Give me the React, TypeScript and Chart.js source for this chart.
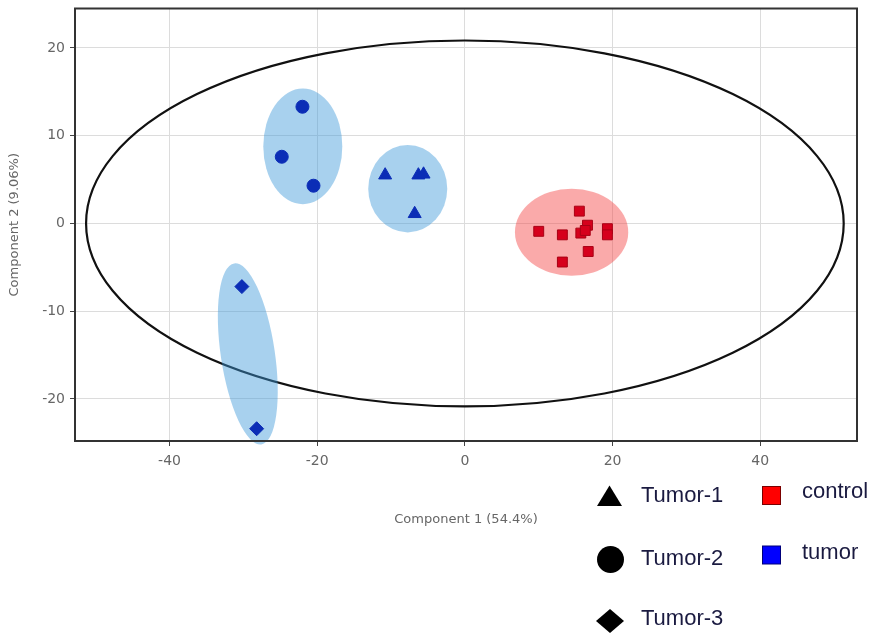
import { useEffect, useRef } from "react";
import { Chart, registerables } from "chart.js";

Chart.register(...registerables);

// PCA scores (Component 1 vs Component 2)
const tumor1X = [-10.8, -6.3, -5.6, -6.8];
const tumor1Y = [5.5, 5.5, 5.6, 1.1];
const tumor2X = [-22.0, -24.8, -20.5];
const tumor2Y = [13.3, 7.6, 4.3];
const tumor3X = [-30.2, -28.2];
const tumor3Y = [-7.2, -23.4];
const controlX = [15.5, 10.0, 13.2, 15.7, 16.6, 16.3, 19.3, 19.3, 16.7, 13.2];
const controlY = [1.4, -0.9, -1.3, -1.1, -0.2, -0.8, -0.6, -1.3, -3.2, -4.4];

const xTicks = [-40, -20, 0, 20, 40];
const yTicks = [-20, -10, 0, 10, 20];

// Confidence regions: overall ellipse, then one per group
const regionGroup = ["all", "Tumor-2", "Tumor-1", "Tumor-3", "control"];
const regionCX = [0, -21.95, -7.74, -29.4, 14.45];
const regionCY = [0, 8.78, 3.96, -14.87, -1.0];
const regionRX = [51.3, 5.35, 5.35, 3.66, 7.67];
const regionRY = [20.85, 6.59, 4.98, 10.43, 4.96];
const regionTilt = [0, 0, 0, -8.5, 0];

const legendShapes = ["Tumor-1", "Tumor-2", "Tumor-3"];
const legendGroups = ["control", "tumor"];

const BLUE = "#0b2db6";
const RED = "#d6001c";
const BLUE_REGION = "rgba(62,153,217,0.45)";
const RED_REGION = "rgba(244,66,66,0.45)";

const toPoints = (xs: number[], ys: number[]) => xs.map((x, i) => ({ x, y: ys[i] }));

const regionsPlugin = {
  id: "regions",
  beforeDatasetsDraw(chart: any) {
    const { ctx } = chart;
    const xs = chart.scales.x;
    const ys = chart.scales.y;
    const draw = (i: number) => {
      const cx = xs.getPixelForValue(regionCX[i]);
      const cy = ys.getPixelForValue(regionCY[i]);
      const rx = Math.abs(xs.getPixelForValue(regionCX[i] + regionRX[i]) - cx);
      const ry = Math.abs(ys.getPixelForValue(regionCY[i] + regionRY[i]) - cy);
      ctx.beginPath();
      ctx.ellipse(cx, cy, rx, ry, (regionTilt[i] * Math.PI) / 180, 0, Math.PI * 2);
    };
    ctx.save();
    regionGroup.forEach((g, i) => {
      if (g !== "all") return;
      draw(i);
      ctx.lineWidth = 2.2;
      ctx.strokeStyle = "#111";
      ctx.stroke();
    });
    regionGroup.forEach((g, i) => {
      if (g === "all") return;
      draw(i);
      ctx.fillStyle = g === "control" ? RED_REGION : BLUE_REGION;
      ctx.fill();
    });
    ctx.restore();
  },
};

const framePlugin = {
  id: "frame",
  afterDatasetsDraw(chart: any) {
    const { ctx, chartArea: a } = chart;
    ctx.save();
    ctx.lineWidth = 2;
    ctx.strokeStyle = "#333";
    ctx.strokeRect(a.left, a.top, a.right - a.left, a.bottom - a.top);
    ctx.restore();
  },
};

const legendPlugin = {
  id: "shapeLegend",
  afterDraw(chart: any) {
    const { ctx } = chart;
    ctx.save();
    ctx.fillStyle = "#000";
    // triangle
    ctx.beginPath();
    ctx.moveTo(609.5, 485.5);
    ctx.lineTo(622, 506);
    ctx.lineTo(597, 506);
    ctx.closePath();
    ctx.fill();
    // circle
    ctx.beginPath();
    ctx.arc(610.5, 559.5, 13.5, 0, Math.PI * 2);
    ctx.fill();
    // diamond
    ctx.beginPath();
    ctx.moveTo(610, 609);
    ctx.lineTo(624, 621);
    ctx.lineTo(610, 633);
    ctx.lineTo(596, 621);
    ctx.closePath();
    ctx.fill();
    // group swatches
    ctx.lineWidth = 1;
    ctx.fillStyle = "#ff0000";
    ctx.fillRect(762.5, 486.5, 18, 18);
    ctx.strokeStyle = "#7a0000";
    ctx.strokeRect(762.5, 486.5, 18, 18);
    ctx.fillStyle = "#0000ff";
    ctx.fillRect(762.5, 546, 18, 18);
    ctx.strokeStyle = "#00007a";
    ctx.strokeRect(762.5, 546, 18, 18);

    ctx.font = "22px 'Liberation Sans', Arial, sans-serif";
    ctx.fillStyle = "#1a1a40";
    ctx.textBaseline = "middle";
    ctx.textAlign = "left";
    const shapeY = [496, 559, 619];
    legendShapes.forEach((t, i) => ctx.fillText(t, 641, shapeY[i]));
    const groupY = [492, 553];
    legendGroups.forEach((t, i) => ctx.fillText(t, 802, groupY[i]));
    ctx.restore();
  },
};

export default function App() {
  const ref = useRef<HTMLCanvasElement | null>(null);

  useEffect(() => {
    if (!ref.current) return;
    const tickFont = { family: "'DejaVu Sans', sans-serif", size: 14 };
    const titleFont = { family: "'DejaVu Sans', sans-serif", size: 13 };
    const chart = new Chart(ref.current, {
      type: "scatter",
      data: {
        datasets: [
          {
            label: "Tumor-1",
            data: toPoints(tumor1X, tumor1Y),
            pointStyle: "triangle",
            pointRadius: 7.5,
            backgroundColor: BLUE,
            borderColor: BLUE,
            borderWidth: 1,
          },
          {
            label: "Tumor-2",
            data: toPoints(tumor2X, tumor2Y),
            pointStyle: "circle",
            pointRadius: 6.5,
            backgroundColor: BLUE,
            borderColor: BLUE,
            borderWidth: 1,
          },
          {
            label: "Tumor-3",
            data: toPoints(tumor3X, tumor3Y),
            pointStyle: "rectRot",
            pointRadius: 7,
            backgroundColor: BLUE,
            borderColor: BLUE,
            borderWidth: 1,
          },
          {
            label: "control",
            data: toPoints(controlX, controlY),
            pointStyle: "rect",
            pointRadius: 7,
            backgroundColor: RED,
            borderColor: "#a80014",
            borderWidth: 1,
          },
        ],
      },
      options: {
        responsive: false,
        animation: false,
        layout: { padding: { left: 0, top: 4, right: 18, bottom: 111 } },
        plugins: { legend: { display: false }, tooltip: { enabled: false } },
        scales: {
          x: {
            type: "linear",
            min: -52.8,
            max: 53.1,
            afterBuildTicks: (s: any) => {
              s.ticks = xTicks.map((v) => ({ value: v }));
            },
            afterFit: (s: any) => {
              s.height = 90;
              s.paddingLeft = 0;
              s.paddingRight = 0;
            },
            grid: { color: "#dcdcdc", lineWidth: 1, tickColor: "#444", tickLength: 5 },
            border: { display: false },
            ticks: { font: tickFont, color: "#666", padding: 7 },
            title: {
              display: true,
              text: "Component 1 (54.4%)",
              font: titleFont,
              color: "#666",
              padding: { top: 0, bottom: 4 },
            },
          },
          y: {
            type: "linear",
            min: -24.8,
            max: 24.5,
            afterBuildTicks: (s: any) => {
              s.ticks = yTicks.map((v) => ({ value: v }));
            },
            afterFit: (s: any) => {
              s.width = 75;
              s.paddingTop = 0;
              s.paddingBottom = 0;
            },
            grid: { color: "#dcdcdc", lineWidth: 1, tickColor: "#444", tickLength: 5 },
            border: { display: false },
            ticks: { font: tickFont, color: "#666", padding: 5 },
            title: {
              display: true,
              text: "Component 2 (9.06%)",
              font: titleFont,
              color: "#666",
              padding: { top: 7, bottom: 0 },
            },
          },
        },
      },
      plugins: [regionsPlugin, framePlugin, legendPlugin],
    });
    return () => chart.destroy();
  }, []);

  return (
    <div style={{ position: "absolute", left: 0, top: 0, width: 875, height: 642, background: "#fff" }}>
      <canvas ref={ref} width={875} height={642} style={{ display: "block" }} />
    </div>
  );
}
